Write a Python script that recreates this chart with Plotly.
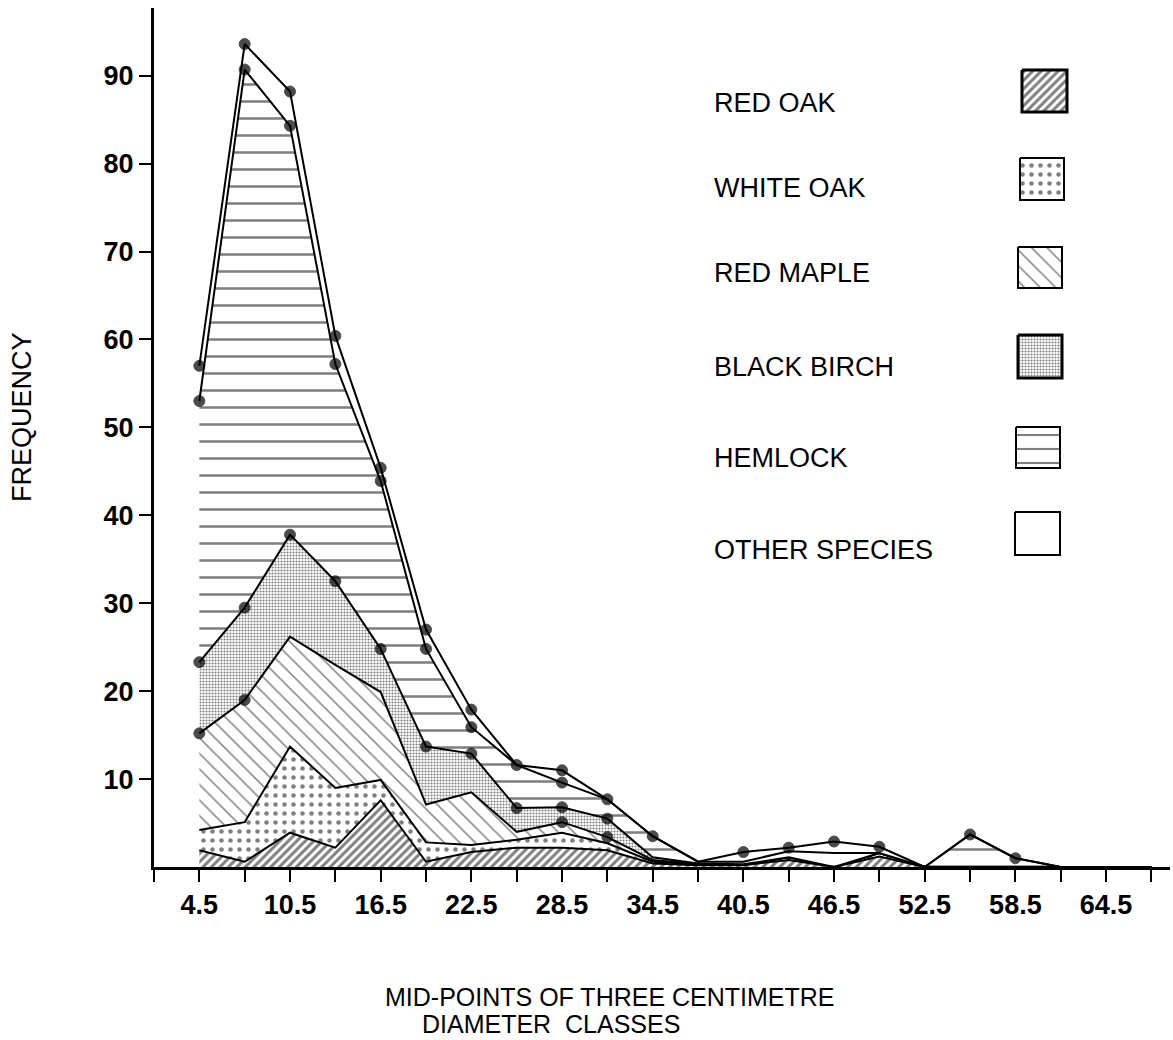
import plotly.graph_objects as go

# ---------------- data ----------------
classes = [4.5, 7.5, 10.5, 13.5, 16.5, 19.5, 22.5, 25.5, 28.5, 31.5, 34.5, 37.5,
           40.5, 43.5, 46.5, 49.5, 52.5, 55.5, 58.5, 61.5, 64.5, 67.5]

red_oak   = [1.9, 0.6, 3.9, 2.2, 7.6, 0.6, 1.7, 2.2, 2.2, 1.9, 0.4, 0.2,
             0.2, 0.8, 0.0, 1.2, 0.0, 0.0, 0.0, 0.0, 0.0, 0.0]
white_oak = [2.3, 4.5, 9.8, 6.8, 2.3, 2.2, 0.8, 0.9, 1.7, 0.8, 0.2, 0.1,
             0.1, 0.3, 0.0, 0.4, 0.0, 0.0, 0.0, 0.0, 0.0, 0.0]
red_maple = [11.0, 13.9, 12.5, 14.0, 10.0, 4.3, 6.0, 0.9, 1.2, 0.7, 0.2, 0.0,
             0.0, 0.0, 0.0, 0.0, 0.0, 0.0, 0.0, 0.0, 0.0, 0.0]
black_birch = [8.1, 10.5, 11.6, 9.5, 4.9, 6.6, 4.4, 2.7, 1.7, 2.1, 0.3, 0.1,
               0.0, 0.0, 0.0, 0.0, 0.0, 0.0, 0.0, 0.0, 0.0, 0.0]
hemlock   = [29.7, 61.2, 46.5, 24.7, 19.1, 11.1, 3.0, 4.9, 2.8, 2.2, 2.4, 0.2,
             0.3, 0.7, 1.6, 0.0, 0.0, 3.7, 1.0, 0.0, 0.0, 0.0]
other_species = [4.0, 2.9, 3.9, 3.2, 1.5, 2.2, 2.0, 0.0, 1.4, 0.0, 0.0, 0.0,
                 1.1, 0.4, 1.3, 0.7, 0.0, 0.0, 0.0, 0.0, 0.0, 0.0]

species_names = ["RED OAK", "WHITE OAK", "RED MAPLE", "BLACK BIRCH", "HEMLOCK", "OTHER SPECIES"]
y_tick_values = [10, 20, 30, 40, 50, 60, 70, 80, 90]
x_tick_labels = ["4.5", "10.5", "16.5", "22.5", "28.5", "34.5", "40.5", "46.5", "52.5", "58.5", "64.5"]

# ---------------- styling ----------------
FONT = "Liberation Sans, Arial, Helvetica, sans-serif"
series = [red_oak, white_oak, red_maple, black_birch, hemlock, other_species]
patterns = [
    dict(shape="/", size=6, solidity=0.5),
    dict(shape=".", size=9, solidity=0.2),
    dict(shape="\\", size=11, solidity=0.14),
    dict(shape=".", size=3, solidity=0.4),
    dict(shape="-", size=17, solidity=0.15),
    None,
]

# where the original draws dots on each boundary line
totals = [sum(v) for v in zip(*series)]
dot_sets = [
    set(),
    set(),
    {4.5, 7.5, 28.5, 31.5},
    {c for c in classes if c <= 31.5},
    {4.5, 7.5, 10.5, 13.5, 16.5, 19.5, 22.5, 28.5},
    {c for c, t in zip(classes, totals) if t >= 1.0},
]

fig = go.Figure()
for name, vals, pat, dots in zip(species_names, series, patterns, dot_sets):
    kw = dict(fillcolor="white")
    if pat is not None:
        kw["fillpattern"] = dict(fgcolor="black", bgcolor="white", **pat)
    fig.add_trace(go.Scatter(
        x=classes, y=vals, name=name, stackgroup="stack",
        mode="lines+markers",
        line=dict(color="black", width=2),
        marker=dict(color="black", size=[11 if c in dots else 0 for c in classes],
                    line=dict(width=1, color="black")),
        **kw,
    ))

# ---------------- legend (text left, swatch right) ----------------
legend_text_y = [103, 188, 273, 367, 458, 550]
legend_boxes = [(1022, 70, 1067, 112), (1020, 158, 1064, 200), (1018, 247, 1062, 288),
                (1018, 335, 1062, 378), (1016, 427, 1060, 468), (1015, 512, 1060, 555)]
for name, pat, ty, (x0, y0, x1, y1) in zip(species_names, patterns, legend_text_y, legend_boxes):
    kw = dict(fillcolor="white")
    if pat is not None:
        p = dict(pat)
        if name == "HEMLOCK":
            p["size"] = 14
        kw["fillpattern"] = dict(fgcolor="black", bgcolor="white", **p)
    fig.add_trace(go.Scatter(
        x=[x0, x1, x1, x0, x0], y=[y0, y0, y1, y1, y0], xaxis="x2", yaxis="y2",
        mode="lines", fill="toself",
        line=dict(color="black", width=3 if name in ("RED OAK", "BLACK BIRCH") else 2),
        hoverinfo="skip", showlegend=False, **kw,
    ))
    fig.add_annotation(x=712, y=ty, xref="x2", yref="y2", text=name, showarrow=False,
                       xanchor="left", yanchor="middle",
                       font=dict(family=FONT, size=27, color="black"))

# axis titles (paper coordinates)
def px_to_paper(px, py):
    return (px - 154) / 1016, (867 - py) / 859

tx, ty = px_to_paper(22, 417)
fig.add_annotation(x=tx, y=ty, xref="paper", yref="paper", text="FREQUENCY", showarrow=False,
                   textangle=-90, xanchor="center", yanchor="middle",
                   font=dict(family=FONT, size=27, color="black"))
tx, ty = px_to_paper(610, 997)
fig.add_annotation(x=tx, y=ty, xref="paper", yref="paper", text="MID-POINTS OF THREE CENTIMETRE",
                   showarrow=False, xanchor="center", yanchor="middle",
                   font=dict(family=FONT, size=25, color="black"))
tx, ty = px_to_paper(551, 1024)
fig.add_annotation(x=tx, y=ty, xref="paper", yref="paper", text="DIAMETER  CLASSES",
                   showarrow=False, xanchor="center", yanchor="middle",
                   font=dict(family=FONT, size=25, color="black"))

x_ticks = [1.5 + 3 * k for k in range(23)]
x_text = [f"{v:.1f}" if f"{v:.1f}" in x_tick_labels else "" for v in x_ticks]

fig.update_layout(
    width=1173, height=1040,
    margin=dict(l=154, r=3, t=8, b=173),
    paper_bgcolor="white", plot_bgcolor="white",
    showlegend=False,
    xaxis=dict(range=[1.5, 68.73], tickvals=x_ticks, ticktext=x_text,
               ticks="outside", ticklen=12, tickwidth=2, tickcolor="black",
               showline=True, linewidth=3, linecolor="black",
               showgrid=False, zeroline=False,
               tickfont=dict(family=FONT, size=27, color="black", weight="bold")),
    yaxis=dict(range=[0, 97.7], tickvals=y_tick_values,
               ticks="outside", ticklen=12, tickwidth=2, tickcolor="black",
               showline=True, linewidth=3, linecolor="black",
               showgrid=False, zeroline=False,
               tickfont=dict(family=FONT, size=27, color="black", weight="bold")),
    xaxis2=dict(range=[154, 1170], overlaying="x", visible=False, anchor="y2"),
    yaxis2=dict(range=[867, 8], overlaying="y", visible=False, anchor="x2"),
)

fig.write_html("out.html")
